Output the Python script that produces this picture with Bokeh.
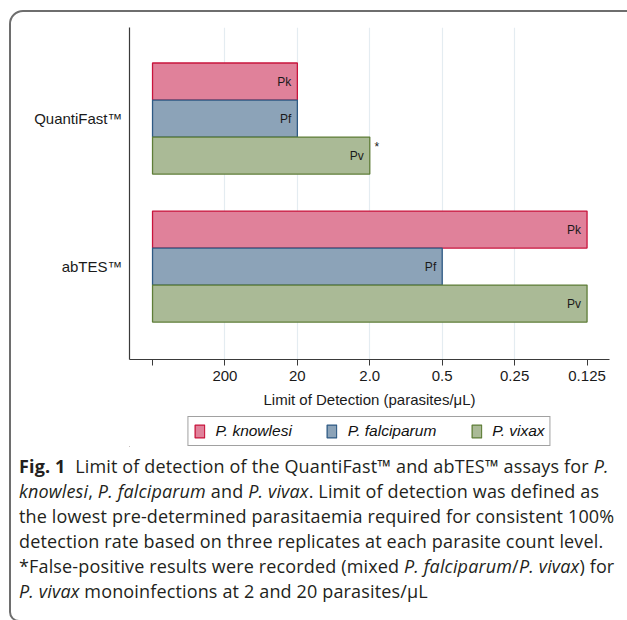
from bokeh.plotting import figure
from bokeh.models import ColumnDataSource, FixedTicker, Legend, LegendItem, Div
from bokeh.layouts import column
from bokeh.core.properties import value
from bokeh.embed import file_html
from bokeh.resources import INLINE

# ---------------- data ----------------
assays = ["abTES™", "QuantiFast™"]            # y positions 0, 1
species = ["P. knowlesi", "P. falciparum", "P. vixax"]
abbrev = ["Pk", "Pf", "Pv"]
lod_ticks = ["", "200", "20", "2.0", "0.5", "0.25", "0.125"]
quantifast_lod = ["20", "20", "2.0"]
abtes_lod = ["0.125", "0.5", "0.125"]
quantifast_notes = ["", "", "*"]
abtes_notes = ["", "", ""]

fills = ["#E0819A", "#8CA3B8", "#AABA96"]
lines = ["#C8143C", "#2E5A84", "#5E7D37"]

caption_lines = [
    "<b>Fig. 1</b>&nbsp; Limit of detection of the QuantiFast™ and abTES™ assays for <i>P.</i>",
    "<i>knowlesi</i>, <i>P. falciparum</i> and <i>P. vivax</i>. Limit of detection was defined as",
    "the lowest pre-determined parasitaemia required for consistent 100%",
    "detection rate based on three replicates at each parasite count level.",
    "*False-positive results were recorded (mixed <i>P. falciparum</i>/<i>P. vivax</i>) for",
    "<i>P. vivax</i> monoinfections at 2 and 20 parasites/μL",
]

FONT = "Liberation Sans"

# ---------------- main chart ----------------
p = figure(width=619, height=415, output_backend="svg", toolbar_location=None,
           x_range=(-0.318, 6.31), y_range=(-0.628, 1.615),
           min_border_left=129, min_border_top=27, min_border_right=10,
           min_border_bottom=56)
p.outline_line_color = None
p.background_fill_color = "white"
p.border_fill_color = "white"

offsets = [0.25, 0.0, -0.25]
bar_h = 0.25
sources = []
for i, sp in enumerate(species):
    ys = [0 + offsets[i], 1 + offsets[i]]
    rights = [lod_ticks.index(abtes_lod[i]), lod_ticks.index(quantifast_lod[i])]
    src = ColumnDataSource(dict(y=ys, right=rights, left=[0, 0],
                                lab=[abbrev[i], abbrev[i]],
                                note=[abtes_notes[i], quantifast_notes[i]]))
    sources.append(src)
    p.hbar(y="y", left="left", right="right", height=bar_h, source=src,
           fill_color=fills[i], line_color=lines[i], line_width=1.3)
    p.text(x="right", y="y", text="lab", source=src, x_offset=-6,
           text_align="right", text_baseline="middle", text_font=value(FONT),
           text_font_size="12px", text_color="#1a1a1a")
    p.text(x="right", y="y", text="note", source=src, x_offset=7, y_offset=-9,
           text_align="center", text_baseline="middle", text_font=value(FONT),
           text_font_size="12px", text_color="#1a1a1a")

# x axis
p.xaxis.ticker = FixedTicker(ticks=list(range(len(lod_ticks))))
p.xaxis.major_label_overrides = {i: t for i, t in enumerate(lod_ticks)}
p.xaxis.axis_label = "Limit of Detection (parasites/μL)"
p.xaxis.axis_label_text_font = FONT
p.xaxis.axis_label_text_font_style = "normal"
p.xaxis.axis_label_text_font_size = "15px"
p.xaxis.axis_label_text_color = "#1a1a1a"
p.xaxis.axis_label_standoff = 7
p.xaxis.major_label_text_font = FONT
p.xaxis.major_label_text_font_size = "15px"
p.xaxis.major_label_text_color = "#1a1a1a"
p.xaxis.major_label_standoff = 5
p.xaxis.major_tick_out = 6
p.xaxis.major_tick_in = 0
p.xaxis.minor_tick_line_color = None
p.xaxis.axis_line_color = "#3a3a3a"
p.xaxis.major_tick_line_color = "#3a3a3a"
p.xaxis.axis_line_width = 1.2

# y axis
p.yaxis.ticker = FixedTicker(ticks=[0, 1])
p.yaxis.major_label_overrides = {i: a for i, a in enumerate(assays)}
p.yaxis.major_label_text_font = FONT
p.yaxis.major_label_text_font_size = "15px"
p.yaxis.major_label_text_color = "#1a1a1a"
p.yaxis.major_tick_line_color = None
p.yaxis.minor_tick_line_color = None
p.yaxis.major_label_standoff = 1
p.yaxis.axis_line_color = "#3a3a3a"
p.yaxis.axis_line_width = 1.2

# grids
p.ygrid.grid_line_color = None
p.xgrid.ticker = FixedTicker(ticks=list(range(1, len(lod_ticks) - 1)))
p.xgrid.grid_line_color = "#E4ECF1"
p.xgrid.grid_line_width = 1.2

# ---------------- legend strip (same data, shown only as legend) ----------------
lp = figure(width=619, height=32, output_backend="svg", toolbar_location=None,
            x_range=(100, 101), y_range=(100, 101),
            x_axis_location=None, y_axis_location=None,
            min_border_left=117, min_border_right=0, min_border_top=0, min_border_bottom=0)
lp.outline_line_color = None
lp.grid.visible = False
legend_items = []
for i, sp in enumerate(species):
    r = lp.hbar(y="y", left="left", right="right", height=bar_h, source=sources[i],
                fill_color=fills[i], line_color=lines[i], line_width=1.3)
    legend_items.append(LegendItem(label=sp, renderers=[r]))
legend = Legend(items=legend_items, orientation="horizontal", location="center",
                label_text_font=FONT, label_text_font_style="italic",
                label_text_font_size="15.5px", label_text_color="#111111",
                glyph_width=12, glyph_height=16, label_height=16,
                label_standoff=10, spacing=34, padding=5, margin=0,
                border_line_color="#444444", border_line_width=1,
                background_fill_color="white", background_fill_alpha=1.0)
lp.add_layout(legend, "center")

# ---------------- caption ----------------
frame_html = ('<div style="position: fixed; left: 9px; top: 10px; width: 700px; height: 612px; '
              'box-sizing: border-box; border: 2px solid #6e6e6e; border-radius: 14px 0 0 10px; '
              'pointer-events: none;"></div>')
caption_html = (
    frame_html +
    '<div style="font-family: \'Open Sans\', sans-serif; font-size: 18px; line-height: 25px; '
    'letter-spacing: 0.15px; color: #231f20; white-space: nowrap; padding-left: 14px; '
    'padding-top: 2px; margin: 0;">'
    + "<br>".join(caption_lines) + "</div>"
)
div = Div(text=caption_html, width=619, height=168)

layout = column(p, lp, div)

open("out.html", "w").write(file_html(layout, INLINE))
